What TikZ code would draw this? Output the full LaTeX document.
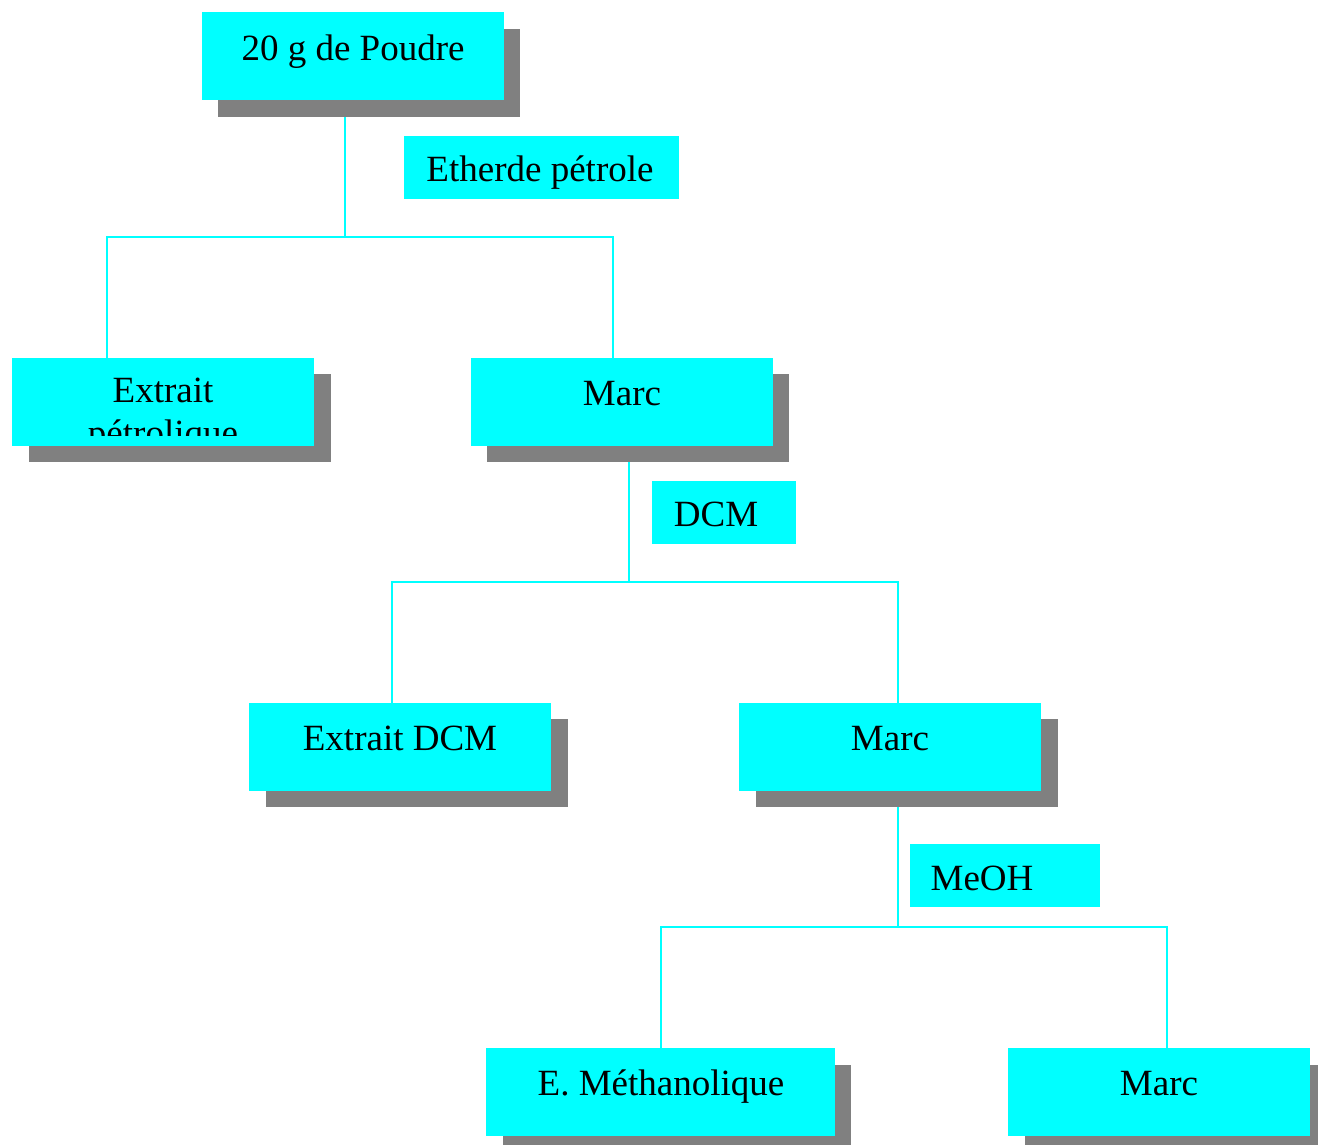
\documentclass[tikz,border=0pt]{standalone}
\usepackage{fontspec}
\setmainfont{Liberation Serif}
\definecolor{boxcyan}{HTML}{00FFFF}
\definecolor{shadowgray}{HTML}{808080}
\tikzset{
  box/.style={fill=boxcyan, draw=none, anchor=north west, inner sep=0pt, outer sep=0pt},
  shade box/.style={fill=shadowgray, draw=none, anchor=north west, inner sep=0pt, outer sep=0pt},
  conn/.style={draw=boxcyan, line width=2pt},
  lbl/.style={font=\fontsize{37}{43}\selectfont, anchor=base, inner sep=0pt},
  big/.style={minimum width=302pt, minimum height=88pt}
}
\begin{document}
\begin{tikzpicture}[x=1pt,y=-1pt]
\useasboundingbox (0,0) rectangle (1318,1144);
\clip (0,0) rectangle (1318,1144);
\coordinate (j1) at (345,237);
\coordinate (l1) at (107,237);
\coordinate (r1) at (613,237);
\coordinate (j2) at (629,582);
\coordinate (l2) at (392,582);
\coordinate (r2) at (898,582);
\coordinate (j3) at (898,927);
\coordinate (l3) at (661,927);
\coordinate (r3) at (1167,927);
% boxes
\node[shade box, big] (s1) at (218,29) {};
\node[box, big] (b1) at (202,12) {};
\node[lbl] (t1) at (353,60) {20 g de Poudre};

\node[box, minimum width=275pt, minimum height=63pt] (e1) at (404,136) {};
\node[lbl] (te1) at (540,181) {Etherde pétrole};

\node[shade box, big] (s2) at (29,374) {};
\node[box, big] (ep) at (12,358) {};
\begin{scope}
  \clip (12,358) rectangle (314,435);
  \node[lbl] (tep1) at (163,402) {Extrait};
  \node[lbl] (tep2) at (163,445) {pétrolique};
\end{scope}

\node[shade box, big] (s3) at (487,374) {};
\node[box, big] (m1) at (471,358) {};
\node[lbl] (tm1) at (622,405) {Marc};

\node[box, minimum width=144pt, minimum height=63pt] (e2) at (652,481) {};
\node[lbl] (te2) at (716,526) {DCM};

\node[shade box, big] (s4) at (266,719) {};
\node[box, big] (ed) at (249,703) {};
\node[lbl] (ted) at (400,750) {Extrait DCM};

\node[shade box, big] (s5) at (756,719) {};
\node[box, big] (m2) at (739,703) {};
\node[lbl] (tm2) at (890,750) {Marc};

\node[box, minimum width=190pt, minimum height=63pt] (e3) at (910,844) {};
\node[lbl] (te3) at (982,890) {MeOH};

\node[shade box, minimum width=348pt, minimum height=88pt] (s6) at (503,1065) {};
\node[box, minimum width=349pt, minimum height=88pt] (em) at (486,1048) {};
\node[lbl] (tem) at (661,1095) {E. Méthanolique};

\node[shade box, big] (s7) at (1025,1065) {};
\node[box, big] (m3) at (1008,1048) {};
\node[lbl] (tm3) at (1159,1095) {Marc};

% connectors
\draw[conn] (s1.south -| j1) -- (j1);
\draw[conn] (l1 |- ep.north) -- (l1) -- (r1) -- (r1 |- m1.north);
\draw[conn] (s3.south -| j2) -- (j2);
\draw[conn] (l2 |- ed.north) -- (l2) -- (r2) -- (r2 |- m2.north);
\draw[conn] (s5.south -| j3) -- (j3);
\draw[conn] (l3 |- em.north) -- (l3) -- (r3) -- (r3 |- m3.north);
\end{tikzpicture}
\end{document}
